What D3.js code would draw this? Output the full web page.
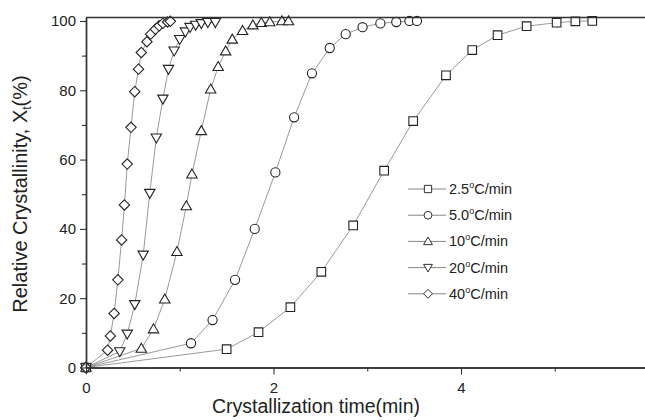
<!DOCTYPE html>
<html>
<head>
<meta charset="utf-8">
<script src="https://cdn.jsdelivr.net/npm/d3@7"></script>
<style>
  body { margin: 0; background: #fff; }
  svg { font-family: "Liberation Sans", Arial, sans-serif; }
</style>
</head>
<body>
<svg id="chart" width="645" height="420"></svg>
<script>
// values (time in min, relative crystallinity in %)
var t25 = [0, 1.50, 1.84, 2.18, 2.51, 2.85, 3.18, 3.49, 3.84, 4.12, 4.39, 4.70, 5.02, 5.22, 5.40];
var x25 = [0, 5.3, 10.2, 17.4, 27.6, 41.0, 56.8, 71.1, 84.3, 91.6, 95.9, 98.5, 99.5, 99.9, 100];
var t50 = [0, 1.12, 1.35, 1.59, 1.80, 2.02, 2.22, 2.41, 2.60, 2.77, 2.95, 3.14, 3.31, 3.45, 3.53];
var x50 = [0, 7.0, 13.7, 25.3, 40.0, 56.3, 72.2, 84.9, 92.2, 96.2, 98.2, 99.3, 99.7, 100, 100];
var t10 = [0, 0.59, 0.72, 0.84, 0.97, 1.07, 1.13, 1.23, 1.33, 1.41, 1.49, 1.56, 1.67, 1.78, 1.87, 1.96, 2.09, 2.16];
var x10 = [0, 5.5, 11.1, 19.7, 33.4, 46.6, 55.8, 68.3, 80.3, 86.8, 91.3, 94.7, 97.2, 98.8, 99.5, 99.7, 100, 100];
var t20 = [0, 0.36, 0.44, 0.52, 0.61, 0.68, 0.75, 0.82, 0.88, 0.94, 1.00, 1.06, 1.11, 1.17, 1.23, 1.30, 1.38];
var x20 = [0, 4.6, 9.7, 18.2, 32.5, 50.3, 66.3, 77.5, 86.1, 91.4, 94.7, 96.9, 98.2, 98.8, 99.3, 99.6, 99.6];
var t40 = [0, 0.23, 0.26, 0.30, 0.34, 0.38, 0.41, 0.44, 0.48, 0.52, 0.56, 0.59, 0.65, 0.69, 0.74, 0.78, 0.82, 0.87, 0.90];
var x40 = [0, 5.0, 9.1, 15.6, 25.3, 36.8, 46.9, 58.7, 69.3, 79.6, 86.1, 90.9, 94.0, 96.2, 97.6, 98.6, 99.3, 99.7, 99.9];

var seriesNames = ["2.5", "5.0", "10", "20", "40"];
var xTicks = [0, 2, 4];
var xMinor = [1, 3, 5];
var yTicks = [0, 20, 40, 60, 80, 100];
var yMinor = [10, 30, 50, 70, 90];

(function () {
    var series = [
        {name: seriesNames[0], t: t25, v: x25, sym: "square"},
        {name: seriesNames[1], t: t50, v: x50, sym: "circle"},
        {name: seriesNames[2], t: t10, v: x10, sym: "up"},
        {name: seriesNames[3], t: t20, v: x20, sym: "down"},
        {name: seriesNames[4], t: t40, v: x40, sym: "diamond"}
    ];

    var svg = d3.select("#chart"),
        pLeft = 86, pRight = 648.5, pTop = 17.5, pBottom = 367.5,
        axisColor = "#333";

    var x = d3.scaleLinear().domain([0, 6]).range([pLeft, pRight]);
    var y = d3.scaleLinear().domain([0, 101]).range([pBottom, pTop]);

    // marker path centred on 0,0
    function marker(sym) {
        var s = 4.3;
        if (sym === "square") return "M" + -s + "," + -s + "h" + 2 * s + "v" + 2 * s + "h" + -2 * s + "Z";
        if (sym === "circle") return d3.arc()({innerRadius: 0, outerRadius: 4.6, startAngle: 0, endAngle: 2 * Math.PI});
        if (sym === "up") return "M0,-5.2L5.2,3.8L-5.2,3.8Z";
        if (sym === "down") return "M0,5.2L5.2,-3.8L-5.2,-3.8Z";
        return "M0,-5.2L5.2,0L0,5.2L-5.2,0Z";
    }

    var line = d3.line().x(function (d) { return x(d[0]); }).y(function (d) { return y(d[1]); });

    // connecting lines first, markers on top
    var g = svg.append("g");
    series.forEach(function (s) {
        var pts = s.t.map(function (t, i) { return [t, s.v[i]]; });
        g.append("path")
            .attr("d", line(pts))
            .attr("fill", "none")
            .attr("stroke", "#777")
            .attr("stroke-width", 0.75);
    });
    series.forEach(function (s) {
        var pts = s.t.map(function (t, i) { return [t, s.v[i]]; });
        g.selectAll(null)
            .data(pts)
          .enter().append("path")
            .attr("d", marker(s.sym))
            .attr("transform", function (d) { return "translate(" + x(d[0]) + "," + y(d[1]) + ")"; })
            .attr("fill", "#fff")
            .attr("stroke", "#222")
            .attr("stroke-width", 1.1);
    });

    // axes
    var xAxis = svg.append("g").attr("transform", "translate(0," + pBottom + ")")
        .call(d3.axisBottom(x).tickValues(xTicks).tickSize(7).tickSizeOuter(0).tickFormat(d3.format("d")));
    svg.append("g").attr("transform", "translate(0," + pBottom + ")")
        .call(d3.axisBottom(x).tickValues(xMinor).tickSize(4).tickSizeOuter(0).tickFormat(""));
    var yAxis = svg.append("g").attr("transform", "translate(" + pLeft + ",0)")
        .call(d3.axisLeft(y).tickValues(yTicks).tickSize(6).tickSizeOuter(0));
    svg.append("g").attr("transform", "translate(" + pLeft + ",0)")
        .call(d3.axisLeft(y).tickValues(yMinor).tickSize(4).tickSizeOuter(0).tickFormat(""));

    svg.selectAll(".domain").attr("stroke", axisColor).attr("stroke-width", 1.4);
    svg.selectAll(".tick line").attr("stroke", axisColor).attr("stroke-width", 1.1);
    svg.selectAll(".tick text").attr("fill", "#222").style("font-size", "15px");
    xAxis.selectAll(".tick text").attr("y", 25.5).attr("dy", 0);
    yAxis.selectAll(".tick text").attr("x", -10);

    // top frame line
    svg.append("line")
        .attr("x1", pLeft).attr("x2", pRight).attr("y1", pTop).attr("y2", pTop)
        .attr("stroke", axisColor).attr("stroke-width", 1.4);

    // axis titles
    svg.append("text")
        .attr("x", 316).attr("y", 413)
        .attr("text-anchor", "middle")
        .attr("fill", "#222")
        .style("font-size", "19.5px")
        .text("Crystallization time(min)");

    var yt = svg.append("text")
        .attr("transform", "translate(27,194) rotate(-90)")
        .attr("text-anchor", "middle")
        .attr("fill", "#222")
        .style("font-size", "20px");
    yt.append("tspan").text("Relative Crystallinity, X");
    yt.append("tspan").attr("dy", 4).style("font-size", "12px").text("t");
    yt.append("tspan").attr("dy", -4).text("(%)");

    // legend
    var legend = svg.append("g").attr("transform", "translate(408,189)");
    series.forEach(function (s, i) {
        var row = legend.append("g").attr("transform", "translate(0," + i * 26.2 + ")");
        row.append("line").attr("x1", 0).attr("x2", 38).attr("y1", 0).attr("y2", 0)
            .attr("stroke", "#777").attr("stroke-width", 0.9);
        row.append("path").attr("d", marker(s.sym))
            .attr("transform", "translate(20,0) scale(0.85)")
            .attr("fill", "#fff").attr("stroke", "#222").attr("stroke-width", 1.1);
        var tx = row.append("text").attr("x", 41).attr("y", 5)
            .attr("fill", "#222").style("font-size", "14.5px");
        tx.append("tspan").text(s.name);
        tx.append("tspan").attr("dy", -6).style("font-size", "9px").text("o");
        tx.append("tspan").attr("dy", 6).text("C/min");
    });
})();
</script>
</body>
</html>
